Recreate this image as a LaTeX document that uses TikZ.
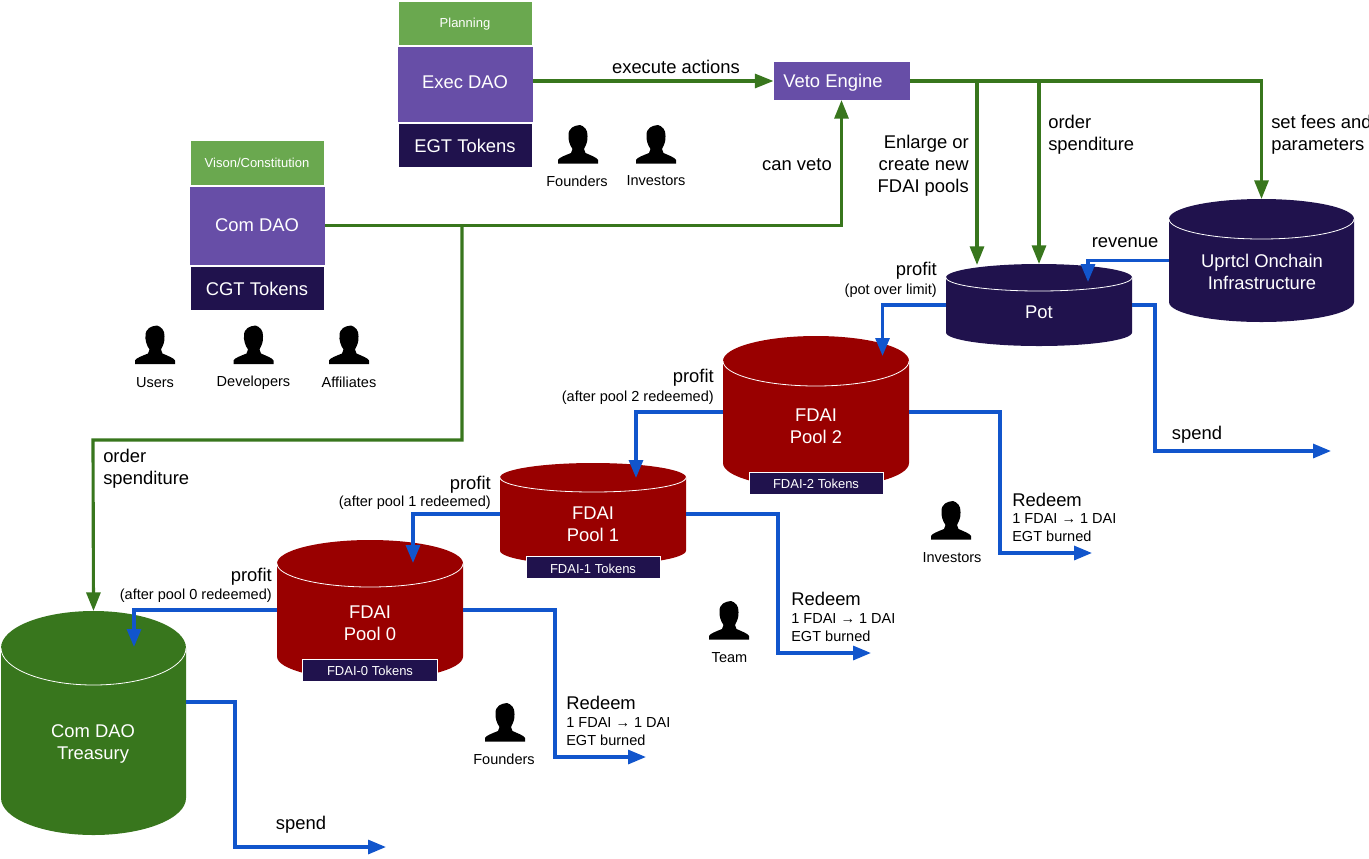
\documentclass[tikz,border=0pt]{standalone}
\usepackage{fontspec}
\setmainfont{Liberation Sans}
\usetikzlibrary{arrows.meta}
\definecolor{plangreen}{HTML}{6AA84F}
\definecolor{daopurple}{HTML}{674EA7}
\definecolor{navy}{HTML}{20124D}
\definecolor{poolred}{HTML}{990000}
\definecolor{treegreen}{HTML}{38761D}
\definecolor{flowblue}{HTML}{1155CC}
\def\pxu{0.75pt}
\newcommand{\fsL}{\fontsize{13.8}{16.5}\selectfont}
\newcommand{\fsM}{\fontsize{10.9}{13.5}\selectfont}
\newcommand{\fsS}{\fontsize{9.75}{12}\selectfont}
\tikzset{
  tbox/.style={inner sep=0pt,outer sep=0pt,draw=white,line width=0.6pt,text=white,minimum width=134*\pxu},
  ghost/.style={inner sep=0pt,outer sep=0pt},
  big/.style={inner sep=0pt,font=\fsL,align=center},
  bigw/.style={big,text=white},
  smallw/.style={inner sep=0pt,font=\fsS,text=white},
  small/.style={inner sep=0pt,font=\fsM,align=center},
  gflow/.style={draw=treegreen,line width=2.35pt,-{Triangle[length=14pt,width=10.5pt]}},
  bflow/.style={draw=flowblue,line width=2.35pt,-{Triangle[length=13.5pt,width=10.5pt]}}
}
% name, left, right, top, bottom, ry, fill
\newcommand{\cyl}[7]{%
  \pgfmathsetmacro{\cyrx}{(#3-#2)/2*0.75}%
  \pgfmathsetmacro{\cyry}{#6*0.75}%
  \pgfmathsetmacro{\cyt}{#4+#6}%
  \pgfmathsetmacro{\cyb}{#5-#6}%
  \pgfmathsetmacro{\cyc}{(#4+#5)/2}%
  \pgfmathsetmacro{\cyw}{#3-#2}%
  \pgfmathsetmacro{\cyh}{#5-#4}%
  \fill[#7] (#2,\cyt) arc[start angle=180,end angle=0,x radius=\cyrx pt,y radius=\cyry pt]
     -- (#3,\cyb) arc[start angle=0,end angle=-180,x radius=\cyrx pt,y radius=\cyry pt] -- cycle;
  \draw[white,line width=0.6pt] (#2,\cyt) arc[start angle=180,end angle=360,x radius=\cyrx pt,y radius=\cyry pt];
  \node[ghost,minimum width=\cyw*\pxu,minimum height=\cyh*\pxu] (#1) at ({(#2+#3)/2},\cyc) {};
}
% name, center x, top y
\newcommand{\personicon}[3]{%
  \begin{scope}[shift={(#2,#3)}]
  \fill[black] (-20,38.5) -- (-20,35) .. controls (-19,32.5) and (-13,30.5) .. (-7,28) -- (-5.5,24)
    .. controls (-8.5,20) and (-10,14) .. (-9.5,10) .. controls (-9.5,3) and (-4,0.5) .. (2,0)
    .. controls (6,1) and (10,5) .. (9.5,11) .. controls (10,16) and (8,20) .. (6,24) -- (7.5,28)
    .. controls (13,30.5) and (19,32.5) .. (20,35) -- (20,38.5) -- cycle;
  \node[ghost,minimum width=40*\pxu,minimum height=38*\pxu] (#1) at (0,19) {};
  \end{scope}
}
\begin{document}
\begin{tikzpicture}[x=0.75pt,y=-0.75pt]
\useasboundingbox (0,0) rectangle (1369,858);

% DAO stacks
\node[tbox,fill=plangreen,minimum height=44*\pxu] (planning) at (465,23) {};
\node[smallw] (plantext) at (465,24) {Planning};
\node[tbox,fill=daopurple,minimum height=76*\pxu,minimum width=136*\pxu] (execbox) at (465,84) {};
\node[bigw] (exectext) at (465,82) {Exec DAO};
\node[tbox,fill=navy,minimum height=44*\pxu,font=\fsL] (egt) at (465,145.5) {EGT Tokens};

\node[tbox,fill=plangreen,minimum height=45*\pxu,font=\fsS] (vision) at (257,162.5) {Vison/Constitution};
\node[tbox,fill=daopurple,minimum height=79*\pxu,minimum width=136*\pxu] (combox) at (257,225.5) {};
\node[bigw] (comtext) at (257,225) {Com DAO};
\node[tbox,fill=navy,minimum height=44*\pxu] (cgt) at (257,288) {};
\node[bigw] (cgttext) at (257,289) {CGT Tokens};

\node[ghost,fill=daopurple,minimum width=136*\pxu,minimum height=38*\pxu] (veto) at (841.5,81) {};
\node[bigw] (vetotext) at (833,83) {Veto Engine};

% Cylinders
\cyl{upr}{1169}{1354}{199}{322}{20}{navy}
\cyl{pot}{946}{1132}{264}{346}{13.5}{navy}
\cyl{pooltwo}{723}{909}{336}{488}{25}{poolred}
\cyl{poolone}{500}{686}{463}{565}{14.5}{poolred}
\cyl{poolzero}{277}{463}{540}{680}{23.5}{poolred}
\cyl{treasury}{1}{186}{611}{835}{37}{treegreen}

\node[bigw] (uprtext) at (1262,271.5) {Uprtcl Onchain\\Infrastructure};
\node[bigw] (pottext) at (1039,312) {Pot};
\node[bigw] (p2text) at (816,426) {FDAI\\Pool 2};
\node[bigw] (p1text) at (593,524) {FDAI\\Pool 1};
\node[bigw] (p0text) at (370,623) {FDAI\\Pool 0};
\node[bigw] (trtext) at (93,743.5) {Com DAO\\Treasury};

\node[tbox,fill=navy,minimum width=134*\pxu,minimum height=22*\pxu] (tok2) at (816,483) {};
\node[smallw] (tok2text) at (816,484) {FDAI-2 Tokens};
\node[tbox,fill=navy,minimum width=134*\pxu,minimum height=22*\pxu] (tok1) at (593,567.5) {};
\node[smallw] (tok1text) at (593,568.5) {FDAI-1 Tokens};
\node[tbox,fill=navy,minimum width=135*\pxu,minimum height=22*\pxu] (tok0) at (370,670) {};
\node[smallw] (tok0text) at (370,671) {FDAI-0 Tokens};

% People
\personicon{pfound}{578}{125}
\personicon{pinv}{656}{125}
\personicon{pusers}{155}{325.5}
\personicon{pdev}{253.5}{325.5}
\personicon{paff}{349}{325.5}
\personicon{pfoundb}{505}{703}
\personicon{pteam}{729}{601}
\personicon{pinvb}{951}{501}
\node[small] (lfound) at (577,181.5) {Founders};
\node[small] (linv) at (656,181) {Investors};
\node[small] (lusers) at (155,382.5) {Users};
\node[small] (ldev) at (253.5,382.5) {Developers};
\node[small] (laff) at (349,382.5) {Affiliates};
\node[small] (lfoundb) at (504,759.5) {Founders};
\node[small] (lteam) at (729.5,657.5) {Team};
\node[small] (linvb) at (952,557.5) {Investors};

% Free junctions and ends
\coordinate (vetosplitA) at (977,81);
\coordinate (vetosplitB) at (1039,81);
\coordinate (comsplit) at (462,225);
\coordinate (comturn) at (93,440);
\coordinate (potinA) at (977,265);
\coordinate (revin) at (1088,282);
\coordinate (p2in) at (882.5,356);
\coordinate (p1in) at (636,478);
\coordinate (p0in) at (413,563);
\coordinate (trin) at (134,647);
\coordinate (treasuryout) at (186,702);
\coordinate (uprout) at (1169,260.5);
\coordinate (potspend) at (1331,451);
\coordinate (p2out) at (1092,553);
\coordinate (p1out) at (871,653);
\coordinate (p0out) at (646,757);
\coordinate (trspend) at (386,847);

% Green connectors
\draw[gflow] (execbox.east |- veto.west) -- (veto.west);
\draw[gflow] (veto.east) -| (upr.north);
\draw[gflow] (vetosplitA) -- (potinA);
\draw[gflow] (vetosplitB) -- (pot.north);
\draw[gflow] (combox.east) -| (veto.south);
\draw[gflow] (comsplit) |- (comturn) -- (treasury.north);

% Blue connectors
\draw[bflow] (uprout) -| (revin);
\draw[bflow] (pot.west) -| (p2in);
\draw[bflow] (pooltwo.west) -| (p1in);
\draw[bflow] (poolone.west) -| (p0in);
\draw[bflow] (poolzero.west) -| (trin);
\draw[bflow] (pot.east) -- (1155,305) |- (potspend);
\draw[bflow] (pooltwo.east) -- (1000,412) |- (p2out);
\draw[bflow] (poolone.east) -- (778,514) |- (p1out);
\draw[bflow] (poolzero.east) -- (555,610) |- (p0out);
\draw[bflow] (treasuryout) -- (235,702) |- (trspend);

% Connector labels
\node[big] (lexec) at (676,67) {execute actions};
\node[big] (lveto) at (797,165) {can veto};
\node[big,align=right,anchor=east] (lenl) at (969,166) {Enlarge or\\create new\\FDAI pools};
\node[big,align=left,anchor=west] (lorda) at (1048,135) {order\\spenditure};
\node[big,align=left,anchor=west] (lfees) at (1271,135) {set fees and\\parameters};
\node[big,align=left,anchor=west] (lordb) at (103,469) {order\\spenditure};
\node[big] (lrev) at (1125,243) {revenue};
\node[big,anchor=east] (lpp) at (937,271) {profit};
\node[small,anchor=east] (lppn) at (937,291) {(pot over limit)};
\node[big] (lspa) at (1197,435) {spend};
\node[big] (lspb) at (301,825) {spend};
\node[big,anchor=east] (lp2) at (714,378) {profit};
\node[small,anchor=east] (lp2n) at (714,398) {(after pool 2 redeemed)};
\node[big,anchor=east] (lp1) at (491,485) {profit};
\node[small,anchor=east] (lp1n) at (491,503) {(after pool 1 redeemed)};
\node[big,anchor=east] (lp0) at (272,577) {profit};
\node[small,anchor=east] (lp0n) at (272,596) {(after pool 0 redeemed)};
\node[big,anchor=west] (rd2) at (1012,499.5) {Redeem};
\node[small,anchor=west,align=left] (rd2n) at (1012,527.5) {1 FDAI → 1 DAI\\EGT burned};
\node[big,anchor=west] (rd1) at (791,599) {Redeem};
\node[small,anchor=west,align=left] (rd1n) at (791,628) {1 FDAI → 1 DAI\\EGT burned};
\node[big,anchor=west] (rd0) at (566,703) {Redeem};
\node[small,anchor=west,align=left] (rd0n) at (566,732) {1 FDAI → 1 DAI\\EGT burned};
\end{tikzpicture}
\end{document}
